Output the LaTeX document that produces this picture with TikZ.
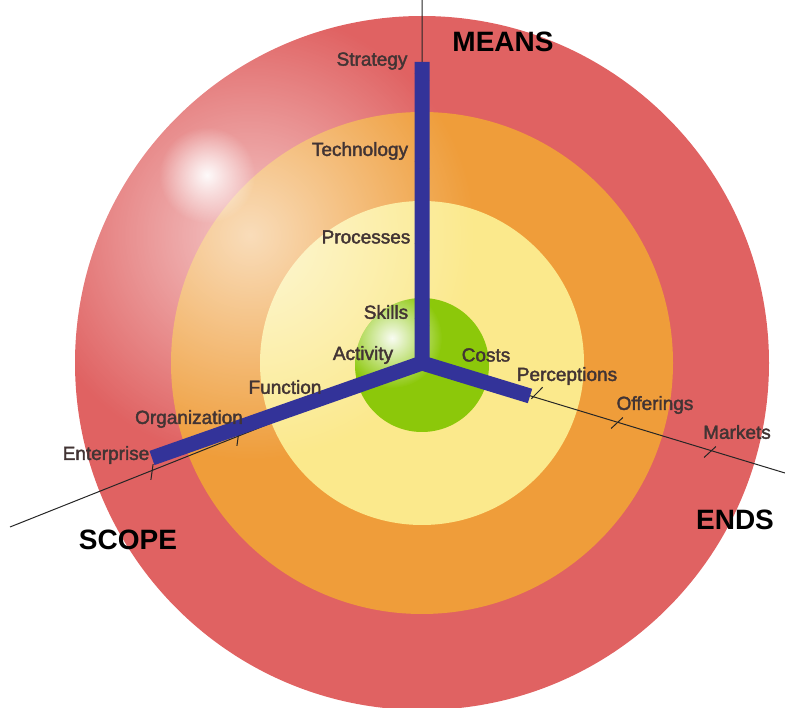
\documentclass[tikz,border=0pt]{standalone}
\usepackage{fontspec}
\setmainfont{Liberation Sans}
\newfontfamily\labfont{Liberation Sans}[FakeBold=2]
\usetikzlibrary{calc,fadings}

\definecolor{ringred}{RGB}{224,98,98}
\definecolor{ringorange}{RGB}{239,157,58}
\definecolor{ringyellow}{RGB}{251,233,140}
\definecolor{coregreen}{RGB}{140,200,10}
\definecolor{spokeblue}{RGB}{51,51,153}
\definecolor{labelgray}{RGB}{66,52,52}
\tikzfading[name=glow, inner color=transparent!5, outer color=transparent!100]
\tikzfading[name=wash, inner color=transparent!35, outer color=transparent!100]

\begin{document}
\begin{tikzpicture}[x=1pt, y=-1pt,
    lab/.style = {text=labelgray, inner sep=0pt, font=\labfont\fontsize{19}{19}\selectfont},
    dimension/.style = {inner sep=0pt, font=\fontsize{28}{28}\selectfont\bfseries},
    axis/.style = {draw=black!85, line width=1pt},
    spoke/.style = {draw=spokeblue, line width=15pt, line join=miter}]
    \useasboundingbox (0,0) rectangle (785,708);

    \coordinate (o) at (422,363);
    \coordinate (core) at (422,365);

    % rings
    \fill[ringred] (o) circle (347pt);
    \fill[ringorange] (o) circle (251pt);
    \fill[ringyellow] (o) circle (162pt);
    \begin{scope}
        \clip (o) circle (347pt);
        \fill[white, path fading=wash] (250,235) circle (225pt);
        \fill[white, path fading=glow] (207,175) circle (48pt);
    \end{scope}
    \fill[coregreen] (core) circle (67pt);
    \begin{scope}
        \clip (core) circle (67pt);
        \fill[white, path fading=glow] (392,338) circle (50pt);
    \end{scope}

    % axes
    \coordinate (atop) at (422,0);
    \coordinate (aleft) at (10,527);
    \coordinate (aright) at (785,473);
    \draw[axis] (atop) -- (o) -- (aleft);
    \draw[axis] (o) -- (aright);

    \foreach \x/\y in {422/77,422/165,422/247,422/322,152/472,238/438,537/393,617/423,710/452} {
        \coordinate (tk) at (\x,\y);
        \draw[axis] ($(tk)!8pt!60:(o)$) -- ($(tk)!8pt!240:(o)$);
    }

    % spokes
    \coordinate (mtop) at (422,62);
    \coordinate (mleft) at (152,458);
    \coordinate (mright) at (530,396);
    \draw[spoke] (mtop) -- (o) -- (mleft);
    \draw[spoke] (o) -- (mright);

    % labels
    \node[lab] (strategy) at (372,61) {Strategy};
    \node[lab] (technology) at (360,151) {Technology};
    \node[lab] (processes) at (366,237) {Processes};
    \node[lab] (skills) at (386,312) {Skills};
    \node[lab] (activity) at (363,355) {Activity};
    \node[lab] (costs) at (486,355) {Costs};
    \node[lab] (perceptions) at (567,376) {Perceptions};
    \node[lab] (offerings) at (655,405) {Offerings};
    \node[lab] (markets) at (737,432) {Markets};
    \node[lab] (function) at (285,387) {Function};
    \node[lab] (organization) at (189,419) {Organization};
    \node[lab] (enterprise) at (106,455) {Enterprise};

    \node[dimension] (means) at (503,42) {MEANS};
    \node[dimension] (scope) at (128,540) {SCOPE};
    \node[dimension] (ends) at (735,520) {ENDS};
\end{tikzpicture}
\end{document}
